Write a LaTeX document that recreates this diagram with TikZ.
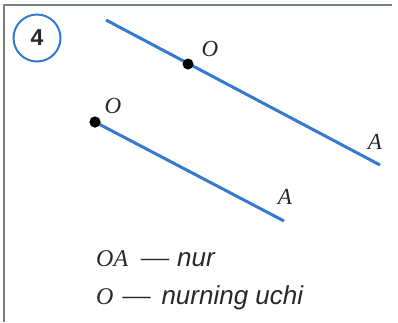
\documentclass[tikz,border=0pt]{standalone}
\usepackage{fontspec}
\setmainfont{Liberation Serif}
\newfontfamily\labsans{Liberation Sans}
\definecolor{segblue}{RGB}{52,122,208}
\definecolor{framegray}{RGB}{120,128,124}
\definecolor{inkgray}{RGB}{40,40,40}
\newcommand{\capdash}{{\fontsize{28}{28}\selectfont\upshape ---}}
\begin{document}
\begin{tikzpicture}[x=1pt,y=-1pt,
  seg/.style={draw=segblue,line width=3pt},
  pt/.style={circle,fill=black,inner sep=0pt,minimum size=11pt},
  lab/.style={text=inkgray,font=\fontsize{23}{23}\selectfont\itshape,inner sep=0pt},
  capt/.style={text=inkgray,anchor=base west,inner sep=0pt,font=\fontsize{24}{24}\selectfont}]
\useasboundingbox (0,0) rectangle (398,322);
\fill[white] (0,0) rectangle (398,322);
% frame
\draw[framegray,line width=2pt] (4,322) -- (4,5) -- (392,5);
% number badge
\node[draw=segblue,line width=2pt,circle,minimum size=47pt,inner sep=0pt,
      text=inkgray,font=\labsans\bfseries\fontsize{23}{23}\selectfont] (badge) at (37,38) {4};
% upper ray
\coordinate (u0) at (106,20);
\coordinate (uA) at (380,165);
\draw[seg] (u0) -- (uA);
\node[pt] (uO) at (188,64) {};
\node[lab] (uOl) at (210,49) {O};
\node[lab] (uAl) at (375,142) {A};
% lower ray
\node[pt] (lO) at (95,122) {};
\coordinate (lA) at (284,221);
\draw[seg] (lO.center) -- (lA);
\node[pt] (lOd) at (95,122) {};
\node[lab] (lOl) at (113,106) {O};
\node[lab] (lAl) at (285,197) {A};
% caption
\node[capt] (c1) at (96,266) {\itshape OA\hspace{13pt}\capdash\hspace{8pt}{\labsans\itshape\fontsize{26}{26}\selectfont nur}};
\node[capt] (c2) at (96,304) {\itshape O\hspace{9pt}\capdash\hspace{11pt}{\labsans\itshape\fontsize{26}{26}\selectfont nurning uchi}};
\end{tikzpicture}
\end{document}
